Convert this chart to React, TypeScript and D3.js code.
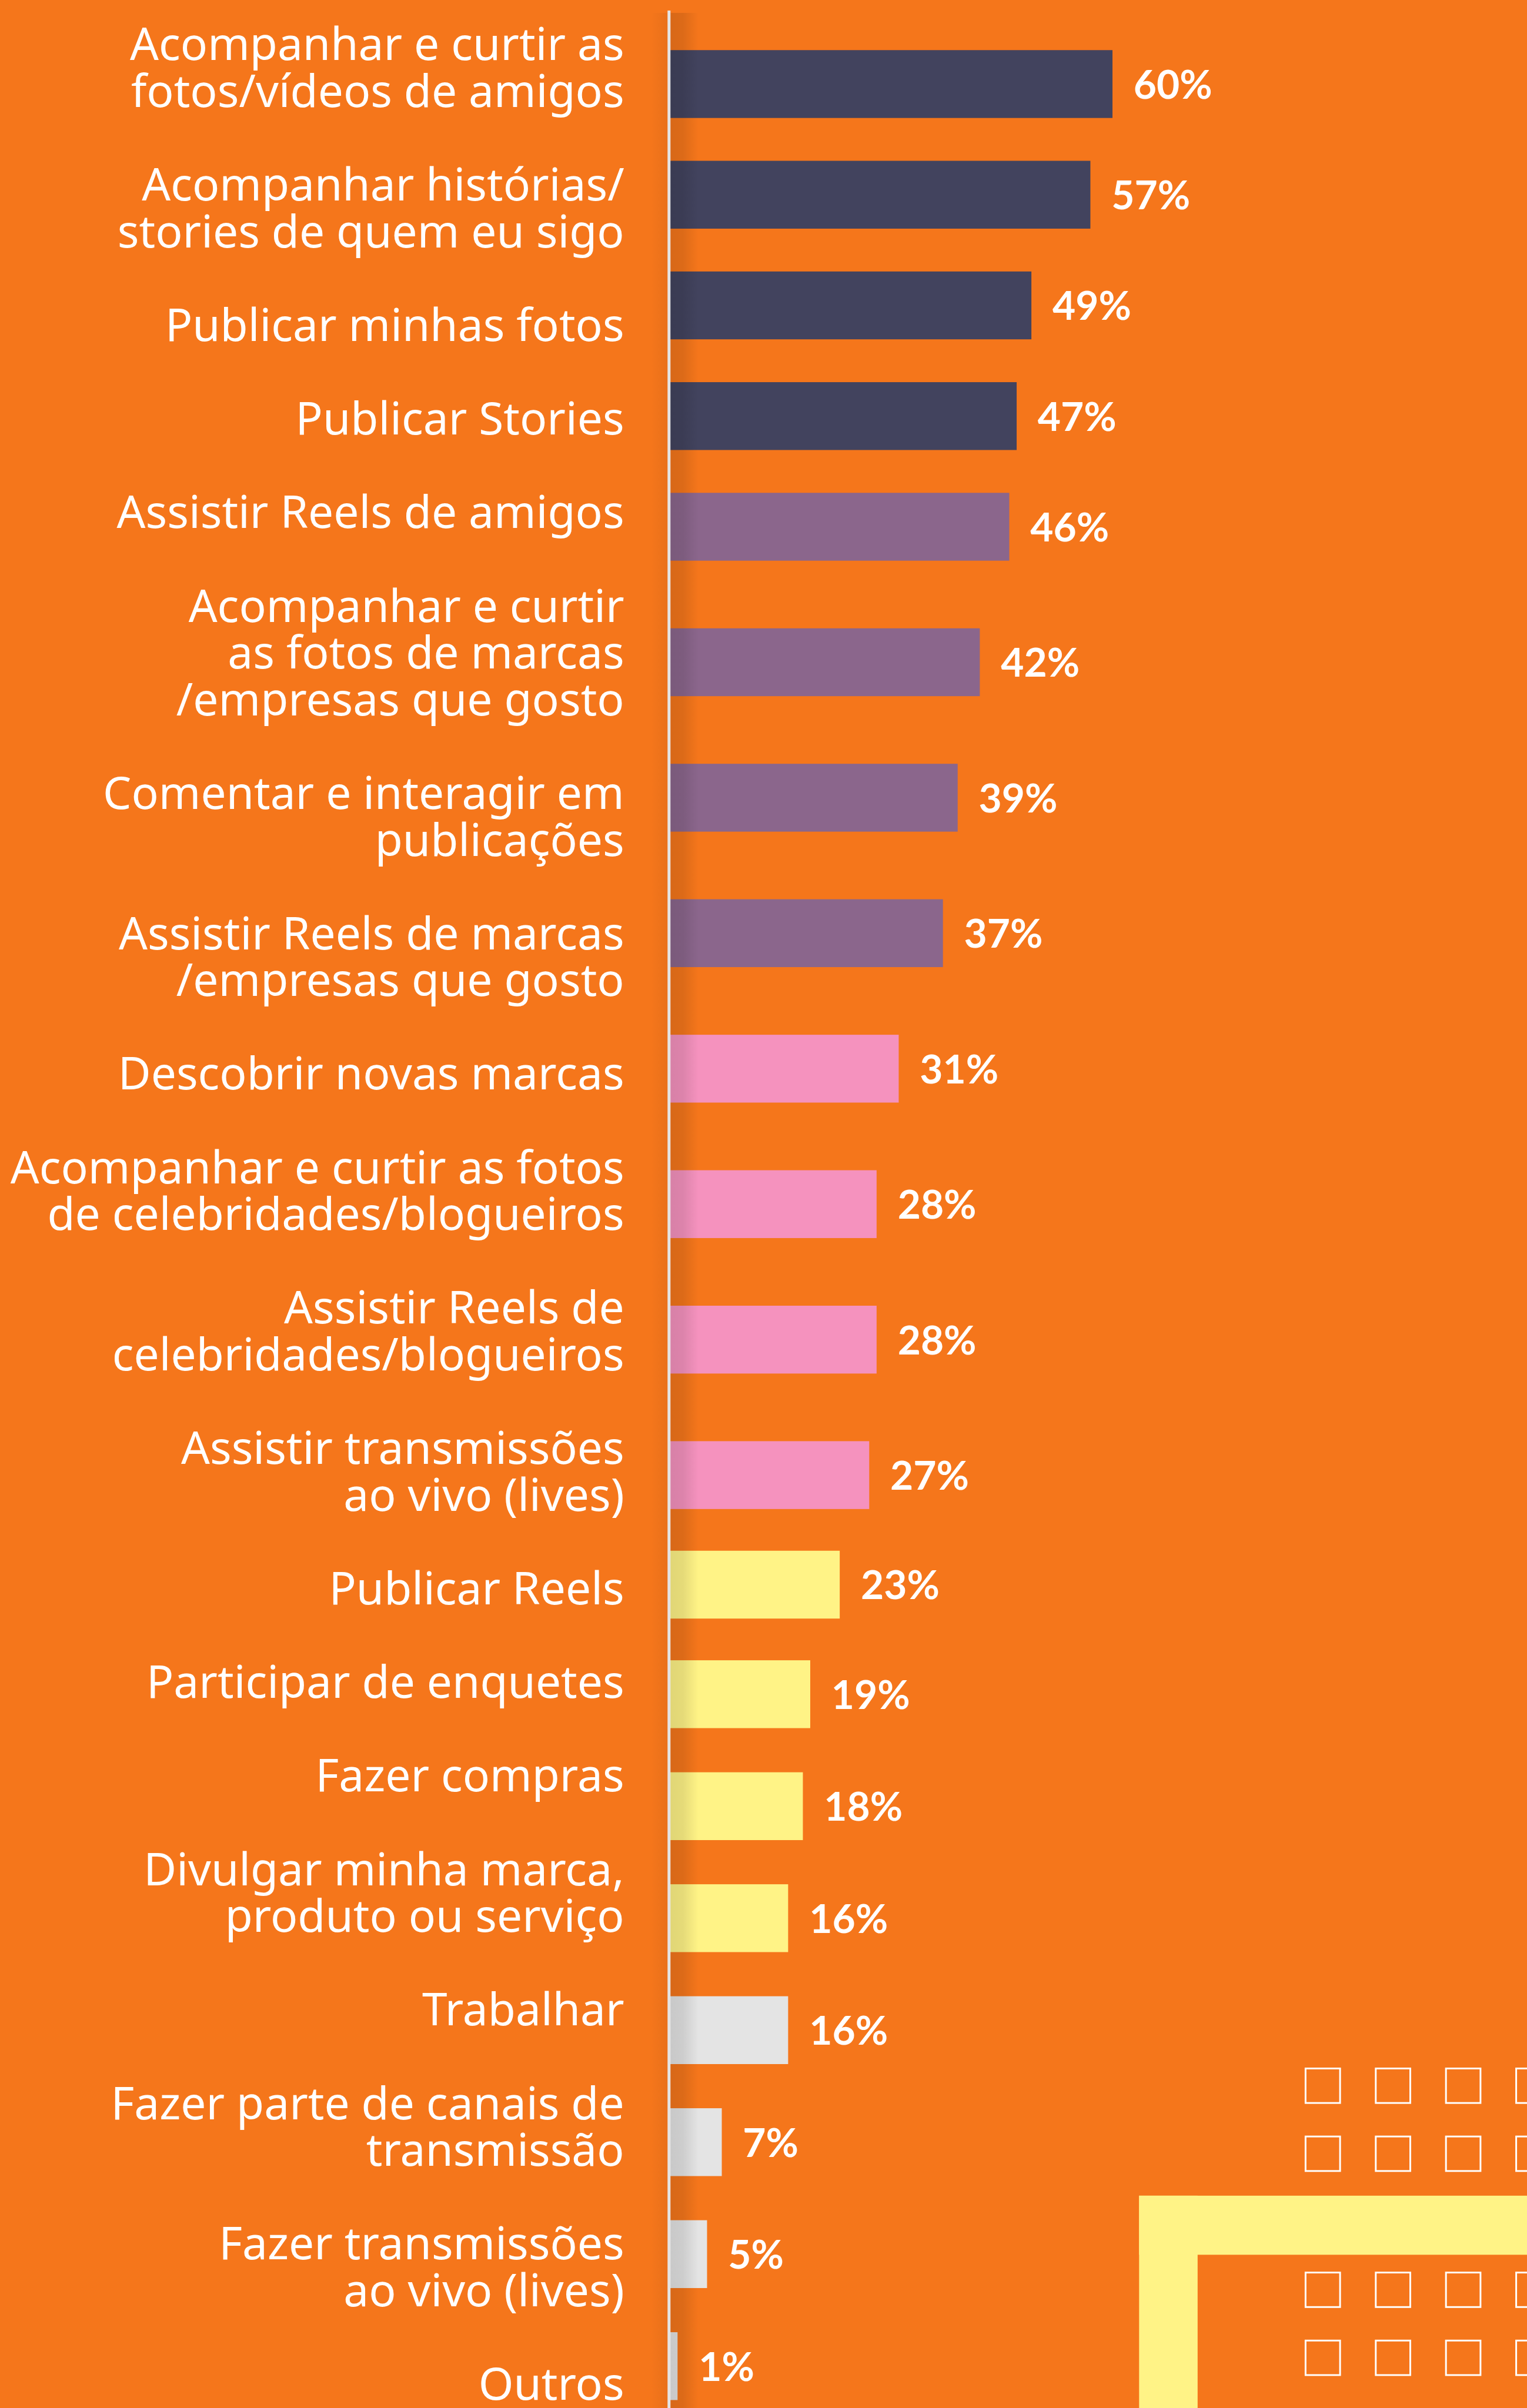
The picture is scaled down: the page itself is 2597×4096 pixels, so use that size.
import React, { useEffect } from "react";
import * as d3 from "d3";

// ---------- DATA ----------
const categories: string[][] = [
  ["Acompanhar e curtir as", "fotos/vídeos de amigos"],
  ["Acompanhar histórias/", "stories de quem eu sigo"],
  ["Publicar minhas fotos"],
  ["Publicar Stories"],
  ["Assistir Reels de amigos"],
  ["Acompanhar e curtir", "as fotos de marcas", "/empresas que gosto"],
  ["Comentar e interagir em", "publicações"],
  ["Assistir Reels de marcas", "/empresas que gosto"],
  ["Descobrir novas marcas"],
  ["Acompanhar e curtir as fotos", "de celebridades/blogueiros"],
  ["Assistir Reels de", "celebridades/blogueiros"],
  ["Assistir transmissões", "ao vivo (lives)"],
  ["Publicar Reels"],
  ["Participar de enquetes"],
  ["Fazer compras"],
  ["Divulgar minha marca,", "produto ou serviço"],
  ["Trabalhar"],
  ["Fazer parte de canais de", "transmissão"],
  ["Fazer transmissões", "ao vivo (lives)"],
  ["Outros"],
];

const values: number[] = [60, 57, 49, 47, 46, 42, 39, 37, 31, 28, 28, 27, 23, 19, 18, 16, 16, 7, 5, 1];

const groups: string[] = [
  "a", "a", "a", "a",
  "b", "b", "b", "b",
  "c", "c", "c", "c",
  "d", "d", "d", "d",
  "e", "e", "e", "e",
];

const groupKeys = ["a", "b", "c", "d", "e"];
const groupColors = ["#42435E", "#8B668C", "#F592BE", "#FFF386", "#E4E4E4"];

// ---------- LAYOUT ----------
const W = 2610;
const H = 4117;
const BG = "#F5761B";
const BAR_H = 116;

const x = d3.scaleLinear().domain([0, 100]).range([1145.5, 2405.5]);
// bar centres: piecewise-linear row scale (the design spaces sections differently)
const y = d3
  .scaleLinear()
  .domain([0, 4, 11, 13, 19])
  .range([143.7, 900.6, 2522, 2896.6, 4045.4]);
// label text flows with one blank line between items
const lineY = d3.scaleLinear().domain([0, 1]).range([103, 183]);
const color = d3.scaleOrdinal<string, string>().domain(groupKeys).range(groupColors);

const LABEL_RIGHT = 1067;

export default function App() {
  useEffect(() => {
    document.body.style.margin = "0";
    document.body.style.overflow = "hidden";
  }, []);

  // cumulative line index per label
  const starts: number[] = [];
  let k = 0;
  categories.forEach((c) => {
    starts.push(k);
    k += c.length + 1;
  });

  const sqCols = d3.range(4).map((i) => 2231.5 + i * 120);
  const sqRows = [0, 1, 3, 4].map((i) => 3536.5 + i * 116.3);

  return (
    <svg
      width={2597}
      height={4096}
      viewBox={`0 0 ${W} ${H}`}
      preserveAspectRatio="none"
      style={{ position: "absolute", left: 0, top: 0, display: "block" }}
    >
      <defs>
        <linearGradient id="shadowR" x1="1146" x2="1194" y1="0" y2="0" gradientUnits="userSpaceOnUse">
          <stop offset="0" stopColor="#000" stopOpacity={0.12} />
          <stop offset="0.45" stopColor="#000" stopOpacity={0.1} />
          <stop offset="1" stopColor="#000" stopOpacity={0} />
        </linearGradient>
        <linearGradient id="shadowL" x1="1112" x2="1141" y1="0" y2="0" gradientUnits="userSpaceOnUse">
          <stop offset="0" stopColor="#000" stopOpacity={0} />
          <stop offset="1" stopColor="#000" stopOpacity={0.05} />
        </linearGradient>
      </defs>

      <rect x={0} y={0} width={W} height={H} fill={BG} />

      {/* decoration bottom right */}
      <g>
        <rect x={1947} y={3754} width={W - 1947} height={101} fill="#FFF386" />
        <rect x={1947} y={3754} width={100} height={H - 3754} fill="#FFF386" />
        {sqRows.map((ry, ri) =>
          sqCols.map((cx, ci) => (
            <rect
              key={`sq-${ri}-${ci}`}
              x={cx}
              y={ry}
              width={59}
              height={59}
              fill="none"
              stroke="#FFFFFF"
              strokeWidth={3}
            />
          ))
        )}
      </g>

      {/* bars */}
      <g>
        {values.map((v, i) => (
          <rect
            key={`bar-${i}`}
            x={x(0)}
            y={y(i) - BAR_H / 2}
            width={x(v) - x(0)}
            height={BAR_H}
            fill={color(groups[i])}
          />
        ))}
      </g>

      {/* shadows next to the axis */}
      <rect x={1146} y={22} width={50} height={H - 22} fill="url(#shadowR)" />
      <rect x={1112} y={22} width={29} height={H - 22} fill="url(#shadowL)" />

      {/* axis line */}
      <rect x={1141} y={18} width={5} height={H - 18} fill="#E4E4E4" />

      {/* value labels */}
      <g fontFamily="Lato, 'Noto Sans', sans-serif" fontWeight={700} fontSize={68} fill="#FFFFFF">
        {values.map((v, i) => (
          <text key={`val-${i}`} x={x(v) + 36} y={y(i) + 25}>
            {`${v}%`}
          </text>
        ))}
      </g>

      {/* category labels */}
      <g fontFamily="'Noto Sans', sans-serif" fontSize={77} fill="#FFFFFF" textAnchor="end">
        {categories.map((lines, i) =>
          lines.map((ln, j) => (
            <text key={`lab-${i}-${j}`} x={LABEL_RIGHT} y={lineY(starts[i] + j)}>
              {ln}
            </text>
          ))
        )}
      </g>
    </svg>
  );
}
